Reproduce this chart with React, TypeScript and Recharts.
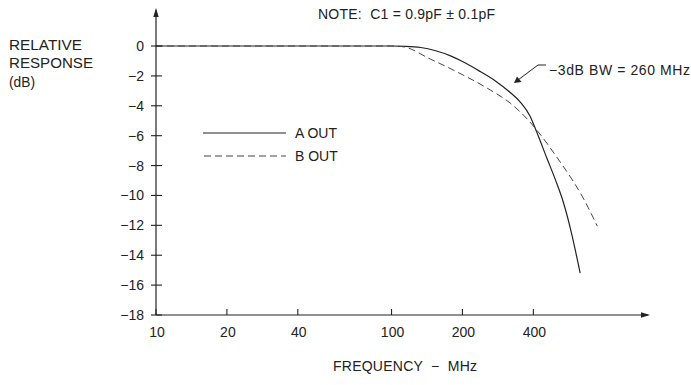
import React from 'react';
import { LineChart, Line, XAxis, YAxis } from 'recharts';

const freqTicks = [10, 20, 40, 100, 200, 400];
const dbTicks = [0, -2, -4, -6, -8, -10, -12, -14, -16, -18];

const aFreq = [10, 100, 115, 133, 154, 178, 206, 238, 276, 319, 352, 388, 407, 458, 496, 531, 574, 632];
const aDb = [0, 0, -0.02, -0.1, -0.32, -0.66, -1.14, -1.71, -2.34, -3.11, -3.75, -4.72, -5.49, -7.56, -8.94, -10.24, -12.18, -15.19];
const bFreq = [10, 100, 112, 146, 190, 263, 319, 377, 407, 520, 590, 651, 747];
const bDb = [0, 0, -0.05, -0.87, -1.74, -2.95, -3.82, -4.89, -5.49, -7.76, -9.04, -10.17, -12.05];

const seriesA = aFreq.map((f, i) => ({ f, v: aDb[i] }));
const seriesB = bFreq.map((f, i) => ({ f, v: bDb[i] }));

const FONT = '"Liberation Sans", Arial, Helvetica, sans-serif';
const INK = '#222';
const FS = 14;

const fmt = (v: number) => String(v).replace('-', '\u2212');

const YTick = (props: any) => {
  const { x, y, payload } = props;
  return (
    <g>
      <line x1={x - 5} x2={x + 6} y1={y} y2={y} stroke={INK} strokeWidth={1.1} />
      <text x={x - 12} y={y} dy={5} textAnchor="end" fontFamily={FONT} fontSize={FS} fill={INK}>
        {fmt(payload.value)}
      </text>
    </g>
  );
};

const XTick = (props: any) => {
  const { x, y, payload } = props;
  return (
    <g>
      <line x1={x} x2={x} y1={y} y2={y - 6} stroke={INK} strokeWidth={1.1} />
      <text x={x + 1} y={y + 22} textAnchor="middle" fontFamily={FONT} fontSize={FS} fill={INK}>
        {fmt(payload.value)}
      </text>
    </g>
  );
};

export default function App() {
  return (
    <div style={{ position: 'absolute', left: 0, top: 0, width: 691, height: 385, background: '#fff' }}>
      <LineChart width={691} height={385} margin={{ top: 10, right: 43, bottom: 40, left: 106 }}>
        <XAxis
          dataKey="f"
          type="number"
          scale="log"
          domain={[10, 1227]}
          allowDataOverflow
          ticks={freqTicks}
          tick={<XTick />}
          tickLine={false}
          tickSize={0}
          tickMargin={0}
          height={30}
          axisLine={{ stroke: INK, strokeWidth: 1.2 }}
          interval={0}
        />
        <YAxis
          type="number"
          domain={[-18, 2.41]}
          allowDataOverflow
          ticks={dbTicks}
          tick={<YTick />}
          tickLine={false}
          tickSize={0}
          tickMargin={0}
          width={50}
          axisLine={{ stroke: INK, strokeWidth: 1.2 }}
          interval={0}
        />
        <Line
          data={seriesA}
          dataKey="v"
          type="monotone"
          stroke={INK}
          strokeWidth={1.2}
          dot={false}
          isAnimationActive={false}
        />
        <Line
          data={seriesB}
          dataKey="v"
          type="monotone"
          stroke="#444"
          strokeWidth={1}
          strokeDasharray="7 4"
          dot={false}
          isAnimationActive={false}
        />
      </LineChart>
      <svg
        width={691}
        height={385}
        style={{ position: 'absolute', left: 0, top: 0, pointerEvents: 'none' }}
        fontFamily={FONT}
        fontSize={FS}
        fill={INK}
      >
        <polygon points="156,8 153.3,17 158.7,17" fill={INK} />
        <polygon points="650,315 641,312.3 641,317.7" fill={INK} />
        <text x={9} y={50} textLength={73} lengthAdjust="spacingAndGlyphs">RELATIVE</text>
        <text x={9} y={68} textLength={84} lengthAdjust="spacingAndGlyphs">RESPONSE</text>
        <text x={9} y={87} textLength={26} lengthAdjust="spacingAndGlyphs">(dB)</text>
        <text x={318} y={19} textLength={177} lengthAdjust="spacing" xmlSpace="preserve">{'NOTE:  C1 = 0.9pF \u00b1 0.1pF'}</text>
        <text x={549} y={75} textLength={141} lengthAdjust="spacing">{'\u22123dB BW = 260 MHz'}</text>
        <polyline points="546,65 538,65 518,80" fill="none" stroke={INK} strokeWidth={1} />
        <polygon points="514,83 517,76.5 521.5,82" fill={INK} />
        <line x1={203} x2={286} y1={133} y2={133} stroke={INK} strokeWidth={1.2} />
        <text x={295} y={138}>A OUT</text>
        <line x1={204} x2={286} y1={156} y2={156} stroke="#444" strokeWidth={1} strokeDasharray="7 4" />
        <text x={295} y={161}>B OUT</text>
        <text x={333} y={371} textLength={144} lengthAdjust="spacing" xmlSpace="preserve">{'FREQUENCY  \u2212  MHz'}</text>
      </svg>
    </div>
  );
}
